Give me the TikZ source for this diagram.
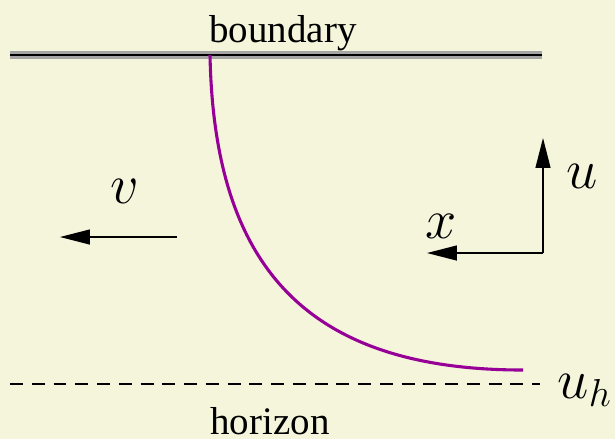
\documentclass[tikz,border=0pt]{standalone}
\usepackage{fontspec}
\setmainfont{Liberation Serif}
\usepackage{xcolor}
\usepackage{tikz}
\usetikzlibrary{positioning,arrows.meta}
\definecolor{paperbeige}{RGB}{245,245,220}
\definecolor{stringpurple}{RGB}{150,0,150}
\definecolor{wallgray}{RGB}{165,165,165}
\tikzset{
  wall-band/.style={line width=2.2pt, draw=wallgray},
  wall-core/.style={line width=0.75pt, draw=black},
  horizon-line/.style={dash pattern=on 4pt off 2.7pt, line width=0.55pt},
  dir-arrow/.style={-{Triangle[length=9.2pt, width=4.6pt]}, line width=0.4pt},
  string-curve/.style={draw=stringpurple, line width=0.95pt},
  math-label/.style={font=\LARGE, inner sep=0pt},
  place-label/.style={font=\fontsize{12}{14}\selectfont, inner sep=0pt}
}

\begin{document}
\begin{tikzpicture}[x=0.308pt, y=-0.308pt]
% Paper and frame
\fill[paperbeige] (0,0) rectangle (615,439);
\useasboundingbox (0,0) rectangle (615,439);

% Boundary at the top
\coordinate (wallL) at (10,55);
\coordinate (wallR) at (542,55);
\draw[wall-band] (wallL) -- (wallR);
\draw[wall-core] (wallL) -- (wallR);
\node[place-label, anchor=base] (bndlabel) at (283,42) {boundary};

% Horizon at the bottom
\coordinate (horL) at (10,384);
\coordinate (horR) at (540,384);
\draw[horizon-line] (horL) -- (horR);
\node[math-label, anchor=base west] (uh) at (557,398) {$u_h$};
\node[place-label, anchor=base] (horlabel) at (270,434) {horizon};

% Hanging string
\coordinate (top) at (210,55);
\coordinate (tip) at (523,370);
\draw[string-curve] (top) .. controls (214,260) and (300,370) .. (tip);

% Velocity
\coordinate (vtail) at (177,237);
\coordinate (vhead) at (60,237);
\draw[dir-arrow] (vtail) -- (vhead);
\node[math-label] (vlabel) at (125,191) {$v$};

% Axes
\coordinate (origin) at (543,253);
\coordinate (xend) at (427,253);
\coordinate (uend) at (543,138);
\draw[dir-arrow] (origin) -- (xend);
\draw[dir-arrow] (origin) -- (uend);
\node[math-label] (xlabel) at (441,226) {$x$};
\node[math-label] (ulabel) at (582,176) {$u$};
\end{tikzpicture}
\end{document}
